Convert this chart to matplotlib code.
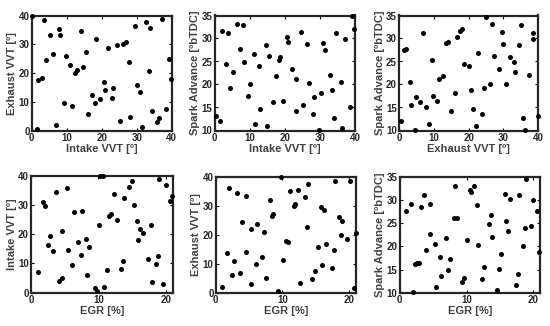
import numpy as np
import matplotlib
matplotlib.use("Agg")
import matplotlib.pyplot as plt

plt.rcParams['font.family'] = ['Liberation Sans', 'DejaVu Sans']

#%% data
# Intake VVT vs Exhaust VVT
p1_x = [0.2, 1.4, 3.6, 1.8, 2.9, 4.0, 5.1, 6.0, 7.8, 8.1, 7.0, 9.2, 9.9, 11.0, 11.4, 12.5, 12.9,
        14.2, 14.6, 15.4, 16.2, 17.3, 18.2, 18.4, 19.4, 20.7, 21.0, 21.9, 23.1, 23.0, 24.5, 25.1,
        26.1, 26.8, 27.8, 28.1, 29.5, 30.1, 30.9, 31.5, 32.6, 33.8, 33.4, 34.5, 35.9, 36.3, 37.1,
        38.4, 39.1, 39.8]
p1_y = [40.0, 0.6, 38.6, 17.7, 18.5, 24.5, 33.4, 26.7, 35.3, 33.2, 2.0, 9.8, 26.1, 22.9, 8.7, 20.2,
        21.2, 34.7, 22.1, 27.4, 6.0, 12.5, 9.6, 32.0, 11.0, 16.9, 14.1, 28.8, 14.9, 11.4, 29.8, 3.5,
        30.1, 30.9, 23.9, 5.0, 36.4, 16.1, 13.6, 1.5, 37.7, 35.8, 20.8, 6.9, 3.0, 4.5, 38.8, 7.6,
        25.0, 17.9]

# Intake VVT vs Spark Advance
p2_x = [0.4, 1.6, 2.1, 3.1, 3.9, 4.3, 5.3, 6.3, 7.1, 8.0, 8.4, 9.4, 10.0, 11.1, 11.6, 12.7, 13.0,
        14.5, 15.0, 15.6, 16.5, 17.5, 18.4, 18.7, 19.6, 20.7, 21.0, 22.1, 23.1, 23.3, 24.7, 25.2,
        26.2, 26.9, 27.9, 28.3, 29.7, 30.2, 31.0, 31.5, 32.8, 33.5, 33.9, 34.6, 36.0, 36.4, 37.2,
        38.5, 39.2, 39.8]
p2_y = [13.1, 12.1, 31.7, 24.4, 31.1, 19.2, 22.7, 33.2, 27.7, 33.0, 24.8, 17.5, 20.0, 26.7, 11.5,
        24.0, 14.7, 28.5, 11.0, 26.3, 16.2, 21.8, 25.3, 25.9, 16.5, 30.3, 29.3, 23.4, 21.3, 14.3,
        31.4, 15.5, 28.9, 20.3, 13.5, 17.2, 10.1, 18.2, 29.1, 27.5, 22.1, 18.7, 12.8, 31.1, 20.5,
        10.6, 29.9, 15.2, 34.8, 32.1]

# Exhaust VVT vs Spark Advance
p3_x = [0.5, 1.5, 2.0, 3.2, 3.5, 4.6, 5.0, 6.0, 7.0, 7.7, 8.7, 9.6, 9.9, 10.8, 11.4, 12.5, 13.5,
        14.1, 14.9, 16.1, 16.7, 17.6, 18.0, 18.7, 20.0, 20.7, 21.2, 22.0, 22.8, 23.8, 24.5, 24.9,
        26.0, 26.7, 27.4, 28.6, 29.7, 29.9, 30.8, 31.9, 32.9, 33.2, 34.4, 35.1, 35.6, 36.3, 37.4,
        38.6, 38.6, 39.8]
p3_y = [12.1, 27.5, 27.7, 20.5, 15.5, 10.1, 17.2, 16.1, 31.1, 15.1, 11.5, 25.3, 17.6, 16.5, 21.2,
        21.8, 29.1, 29.3, 14.3, 18.1, 30.3, 31.7, 32.0, 24.4, 24.0, 18.7, 14.7, 11.0, 26.8, 13.5,
        19.2, 34.7, 20.0, 33.2, 26.3, 23.3, 31.4, 28.9, 20.2, 26.0, 24.9, 22.7, 28.5, 33.0, 12.8,
        10.1, 22.1, 31.1, 29.9, 13.2]

# EGR vs Intake VVT
p4_x = [1.0, 1.8, 2.1, 2.5, 2.8, 3.2, 3.7, 4.1, 4.6, 4.6, 5.3, 5.5, 6.1, 6.3, 7.0, 7.4, 7.5, 8.2,
        8.3, 8.6, 9.5, 9.8, 10.1, 10.2, 10.6, 10.8, 11.2, 11.6, 11.8, 12.3, 12.7, 13.3, 13.7, 13.8,
        14.5, 14.9, 15.2, 15.7, 15.8, 16.2, 16.6, 17.4, 17.8, 17.9, 18.5, 18.8, 19.0, 19.6, 20.0,
        20.6, 20.9]
p4_y = [7.1, 30.9, 29.5, 16.2, 19.4, 14.2, 34.4, 4.1, 5.1, 21.0, 35.8, 14.7, 9.3, 27.6, 17.4, 12.9,
        28.0, 18.4, 6.0, 15.5, 1.6, 0.5, 23.0, 39.8, 39.8, 1.9, 7.9, 26.1, 26.8, 33.8, 24.9, 8.2,
        10.9, 32.5, 36.3, 38.2, 30.1, 24.5, 18.1, 21.9, 20.5, 11.4, 23.0, 3.8, 9.8, 12.4, 39.0, 3.0,
        36.9, 31.2, 33.1]

# EGR vs Exhaust VVT
p5_x = [0.95, 1.7, 2.0, 2.4, 2.7, 3.2, 3.6, 4.0, 4.5, 4.6, 5.3, 5.3, 6.1, 6.2, 6.9, 7.3, 7.5, 8.2,
        8.4, 8.6, 9.4, 9.8, 10.1, 10.5, 10.8, 11.2, 11.7, 11.9, 12.3, 12.7, 13.4, 13.7, 13.9, 14.5,
        14.9, 15.3, 15.9, 15.8, 16.3, 16.6, 17.4, 17.8, 17.9, 18.5, 19.0, 18.8, 19.7, 20.1, 20.7,
        21.0]
p5_y = [2.0, 13.6, 36.2, 6.0, 10.8, 34.5, 6.9, 24.5, 33.3, 14.0, 22.0, 3.1, 9.8, 23.8, 12.4, 21.1,
        4.9, 31.8, 26.4, 27.2, 0.6, 39.9, 11.4, 17.9, 17.5, 34.9, 29.9, 30.7, 35.5, 3.4, 32.9, 22.8,
        37.4, 4.6, 7.6, 15.9, 9.5, 29.5, 28.5, 16.7, 8.6, 14.8, 38.4, 26.0, 24.8, 20.0, 18.5, 38.5,
        1.5, 20.6]

# EGR vs Spark Advance
p6_x = [0.95, 1.7, 2.05, 2.35, 2.6, 2.85, 3.15, 3.6, 4.0, 4.55, 4.5, 5.3, 5.4, 6.0, 6.2, 6.95, 7.3,
        7.5, 8.2, 8.3, 8.6, 9.3, 9.65, 10.05, 10.45, 10.7, 11.15, 11.6, 11.75, 12.3, 12.65, 13.35,
        13.65, 13.8, 14.5, 14.85, 15.2, 15.7, 15.85, 16.25, 16.55, 17.7, 17.4, 17.85, 18.4, 18.75,
        18.95, 19.65, 20.0, 20.55, 20.9]
p6_y = [27.6, 29.1, 10.1, 16.2, 16.4, 16.5, 28.5, 31.1, 19.3, 29.1, 22.7, 20.6, 11.2, 17.7, 13.6,
        21.8, 14.8, 17.3, 26.0, 33.1, 26.2, 12.2, 13.2, 21.3, 32.1, 31.7, 32.9, 28.9, 20.3, 13.0,
        15.5, 24.9, 26.7, 22.1, 10.6, 15.2, 18.3, 31.3, 25.4, 23.4, 30.2, 14.1, 11.7, 31.1, 20.0,
        24.0, 34.6, 24.4, 29.9, 27.5, 18.8]

vvt_ticks = [0, 10, 20, 30, 40]
spark_ticks = [10, 15, 20, 25, 30, 35]
egr_ticks = [0, 10, 20]

#%% panels: data, labels, limits, ticks, box in pixels (left, top, right, bottom)
panels = [
    (p1_x, p1_y, 'Intake VVT [º]', 'Exhaust VVT [º]', (0, 40), (0, 40), vvt_ticks, vvt_ticks,
     (31.7, 15.5, 171.7, 131.0)),
    (p2_x, p2_y, 'Intake VVT [º]', 'Spark Advance [ºbTDC]', (0, 40), (10, 35), vvt_ticks, spark_ticks,
     (214.7, 15.5, 355.0, 130.5)),
    (p3_x, p3_y, 'Exhaust VVT [º]', 'Spark Advance [ºbTDC]', (0, 40), (10, 35), vvt_ticks, spark_ticks,
     (399.0, 15.5, 538.3, 130.5)),
    (p4_x, p4_y, 'EGR [%]', 'Intake VVT [º]', (0, 21), (0, 40), egr_ticks, vvt_ticks,
     (31.0, 175.7, 172.7, 292.7)),
    (p5_x, p5_y, 'EGR [%]', 'Exhaust VVT [º]', (0, 21), (0, 40), egr_ticks, vvt_ticks,
     (215.7, 176.7, 355.7, 292.7)),
    (p6_x, p6_y, 'EGR [%]', 'Spark Advance [ºbTDC]', (0, 21), (10, 35), egr_ticks, spark_ticks,
     (399.7, 176.7, 540.0, 292.7)),
]

W, H = 550, 326
fig = plt.figure(figsize=(W / 100, H / 100), dpi=100)

for x, y, xl, yl, xlim, ylim, xt, yt, box in panels:
    l, t, r, b = box
    ax = fig.add_axes([l / W, 1 - b / H, (r - l) / W, (b - t) / H])
    ax.scatter(x, y, s=13, c='black', linewidths=0, clip_on=False, zorder=3)
    ax.set_xlim(xlim)
    ax.set_ylim(ylim)
    ax.set_xticks(xt)
    ax.set_yticks(yt)
    ax.set_xlabel(xl, fontsize=8, fontweight='bold', color='#404040', labelpad=1)
    ax.set_ylabel(yl, fontsize=8, fontweight='bold', color='#404040', labelpad=1)
    ax.tick_params(direction='in', top=True, right=True, length=2, width=0.8,
                   labelsize=7, pad=1.5, labelcolor='#262626')
    for lab in ax.get_xticklabels() + ax.get_yticklabels():
        lab.set_fontweight('bold')
    for sp in ax.spines.values():
        sp.set_linewidth(1.6)
        sp.set_color('#262626')

fig.savefig('out.png', dpi=100)
